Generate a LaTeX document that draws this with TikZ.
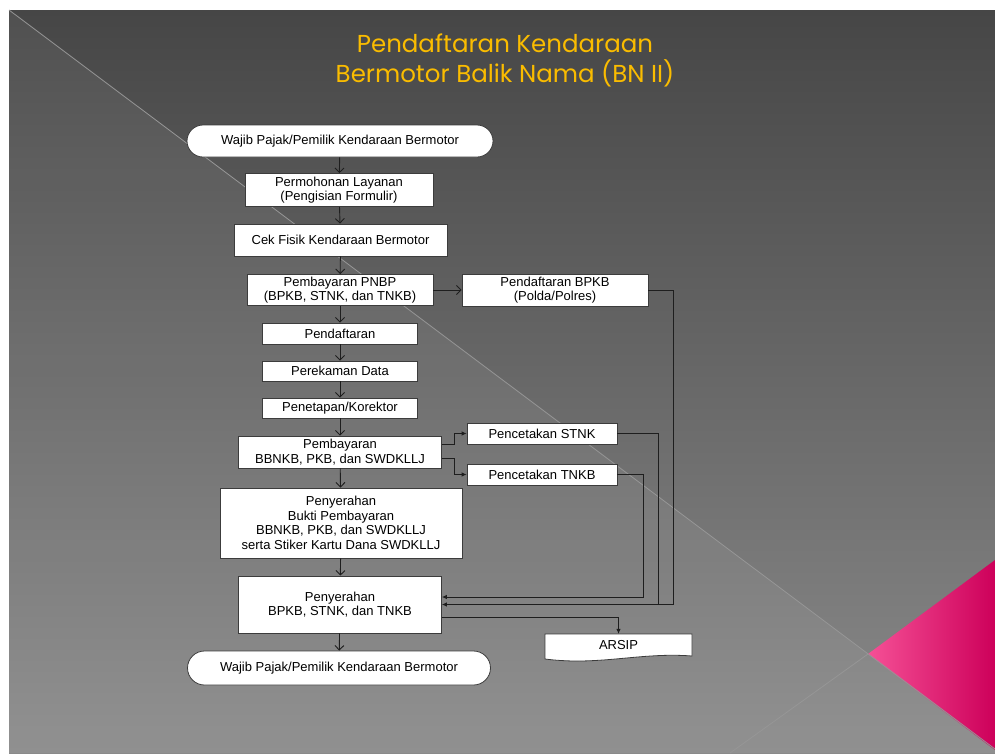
\documentclass[tikz,border=0pt]{standalone}
\usepackage{fontspec}
\setmainfont{Liberation Sans}
\newfontfamily\titlefont{Poppins}
\usetikzlibrary{arrows.meta,calc}
\definecolor{bgtop}{RGB}{70,70,70}
\definecolor{bgbot}{RGB}{138,138,138}
\definecolor{diagline}{RGB}{150,150,150}
\definecolor{titlegold}{RGB}{250,188,0}
\definecolor{linec}{RGB}{30,30,30}
\definecolor{boxline}{RGB}{60,60,60}
\definecolor{pinkL}{RGB}{245,80,150}
\definecolor{pinkM}{RGB}{252,0,128}
\definecolor{pinkR}{RGB}{205,0,90}
\tikzset{
  box/.style={draw=boxline, fill=white, line width=0.8pt, align=center, inner sep=0pt,
    font=\fontsize{13}{14.5}\selectfont},
  term/.style={box, rounded corners=16pt},
  arr/.style={draw=linec, line width=0.9pt, -{Straight Barb[length=4.5pt,width=9pt]}},
  arrs/.style={draw=linec, line width=0.8pt, -{Latex[length=5pt,width=4.5pt]}},
}
\begin{document}
\begin{tikzpicture}[x=1pt,y=-1pt]
\useasboundingbox (0,0) rectangle (995,753);
\fill[white] (0,0) rectangle (995,753);
% background
\shade[top color=bgtop, bottom color=bgbot] (9,10) rectangle (995,753);
\fill[white, opacity=0.06] (9,10) -- (995,749) -- (995,753) -- (9,753) -- cycle;
\shade[left color=pinkL, middle color=pinkM, right color=pinkR] (868,654) -- (995,560) -- (995,750) -- cycle;
\draw[diagline, line width=0.8pt] (9,10) -- (995,749);
\draw[diagline, line width=0.8pt] (730,753) -- (868,654);
% title
\node[text=titlegold, align=center, font=\titlefont\fontsize{24.5}{30}\selectfont] (title) at (505,60)
  {Pendaftaran Kendaraan\\Bermotor Balik Nama (BN II)};
% nodes
\node[term, minimum width=306pt, minimum height=32pt] (w1) at (340,141) {Wajib Pajak/Pemilik Kendaraan Bermotor};
\node[box, minimum width=188pt, minimum height=33pt] (n2) at (339,190) {Permohonan Layanan\\(Pengisian Formulir)};
\node[box, minimum width=213pt, minimum height=32pt] (n3) at (340.5,240) {Cek Fisik Kendaraan Bermotor};
\node[box, minimum width=186pt, minimum height=31pt] (n4) at (340,290) {Pembayaran PNBP\\(BPKB, STNK, dan TNKB)};
\node[box, minimum width=186pt, minimum height=32pt] (n5) at (555,290) {Pendaftaran BPKB\\(Polda/Polres)};
\node[box, minimum width=155pt, minimum height=21pt] (n6) at (340,333.5) {Pendaftaran};
\node[box, minimum width=155pt, minimum height=20pt] (n7) at (340,371) {Perekaman Data};
\node[box, minimum width=155pt, minimum height=20pt] (n8) at (340,408) {Penetapan/Korektor};
\node[box, minimum width=203pt, minimum height=32pt] (n9) at (340,452) {Pembayaran\\BBNKB, PKB, dan SWDKLLJ};
\node[box, minimum width=150pt, minimum height=21pt] (n10) at (542,433.5) {Pencetakan STNK};
\node[box, minimum width=150pt, minimum height=21pt] (n11) at (542,474.5) {Pencetakan TNKB};
\node[box, minimum width=242pt, minimum height=70pt] (n12) at (341,523) {Penyerahan\\Bukti Pembayaran\\BBNKB, PKB, dan SWDKLLJ\\serta Stiker Kartu Dana SWDKLLJ};
\node[box, minimum width=203pt, minimum height=57pt] (n13) at (340,604.5) {Penyerahan\\BPKB, STNK, dan TNKB};
\draw[boxline, fill=white, line width=0.8pt] (545,634) -- (692,634) -- (692,656) .. controls (640,652) and (600,666) .. (545,659) -- cycle;
\node[inner sep=0pt, minimum width=147pt, minimum height=22pt, font=\fontsize{13}{14.5}\selectfont] (n14) at (618.5,645) {ARSIP};
\node[term, minimum width=303pt, minimum height=34pt, rounded corners=17pt] (w15) at (339,668) {Wajib Pajak/Pemilik Kendaraan Bermotor};
% coordinates
\coordinate (k1) at (673,604.5);
\coordinate (k2) at (658,604.5);
\coordinate (k3) at (643,597);
% connectors
\draw[arr] (w1) -- (n2);
\draw[arr] (n2) -- (n3);
\draw[arr] (n3) -- (n4);
\draw[arr] (n4) -- (n6);
\draw[arr] (n6) -- (n7);
\draw[arr] (n7) -- (n8);
\draw[arr] (n8) -- (n9);
\draw[arr] (n9) -- (n12);
\draw[arr] (n12) -- (n13);
\draw[arr] (n13) -- (w15);
\draw[arr] (n4) -- (n5);
\draw[arrs] ($(n9.east)+(0,-8)$) -- ++(12,0) |- (n10.west);
\draw[arrs] ($(n9.east)+(0,6)$) -- ++(12,0) |- (n11.west);
\draw[draw=linec, line width=0.8pt] (n5.east) -| (k1) -- (k2);
\draw[arrs] (n10.east) -| (k2) -- (n13.east);
\draw[arrs] (n11.east) -| (k3) -- (n13.east |- k3);
\draw[arrs] ($(n13.east)+(0,12.5)$) -| (n14.north);
\end{tikzpicture}
\end{document}
